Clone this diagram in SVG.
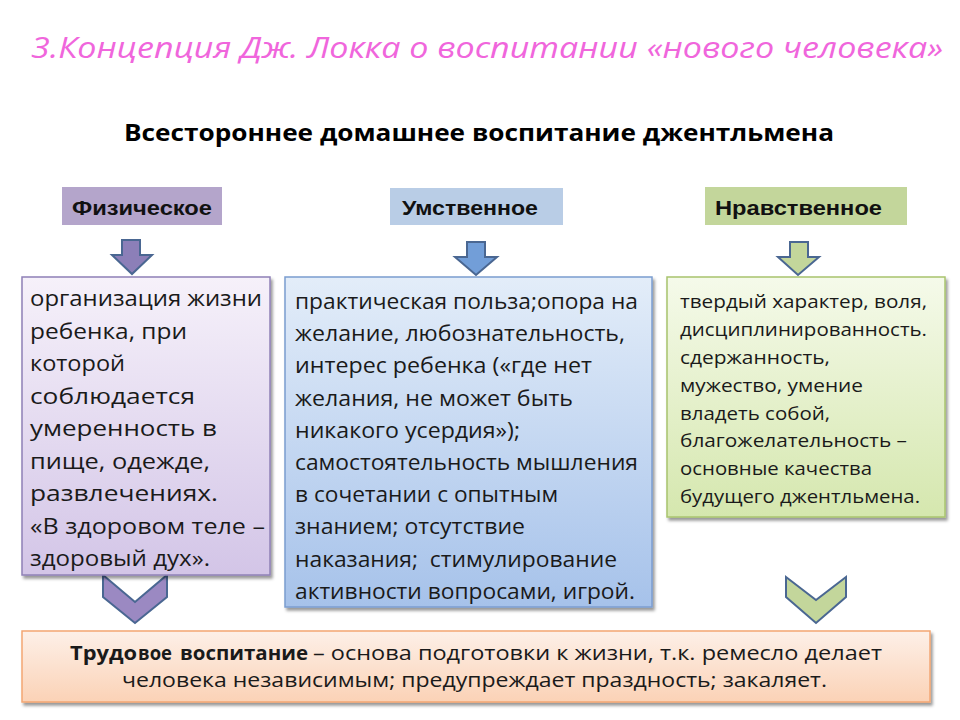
<svg xmlns="http://www.w3.org/2000/svg" width="960" height="720" viewBox="0 0 960 720">
<defs>
<linearGradient id="gPurple" x1="0" y1="0" x2="0" y2="1"><stop offset="0" stop-color="#f6f1fa"/><stop offset="1" stop-color="#d3c5e7"/></linearGradient>
<linearGradient id="gBlue" x1="0" y1="0" x2="0" y2="1"><stop offset="0" stop-color="#e3edf9"/><stop offset="1" stop-color="#a6c2ea"/></linearGradient>
<linearGradient id="gGreen" x1="0" y1="0" x2="0" y2="1"><stop offset="0" stop-color="#f5faea"/><stop offset="1" stop-color="#d5e7ae"/></linearGradient>
<linearGradient id="gPeach" x1="0" y1="0" x2="0" y2="1"><stop offset="0" stop-color="#fdf0e8"/><stop offset="1" stop-color="#fbd2b6"/></linearGradient>
<filter id="sh" x="-5%" y="-5%" width="110%" height="115%"><feDropShadow dx="2" dy="3" stdDeviation="1.5" flood-color="#000" flood-opacity="0.4"/></filter>
</defs>
<style>
.title{font-family:"Open Sans","Noto Sans",sans-serif;font-style:italic;font-size:29px;fill:#f066dc}
.sub{font-family:"Open Sans","Noto Sans",sans-serif;font-weight:bold;font-size:23px;fill:#000}
.hdr{font-family:"Liberation Sans",Arial,sans-serif;font-weight:bold;font-size:20px;fill:#111}
.body{font-family:"Open Sans","Noto Sans",sans-serif;font-size:22px;fill:#1a1a1a}
.small{font-family:"Open Sans","Noto Sans",sans-serif;font-size:18.5px;fill:#1a1a1a}
.bot{font-family:"Open Sans","Noto Sans",sans-serif;font-size:20px;fill:#1a1a1a}
.arr{stroke:#4a6792;stroke-width:2;stroke-linejoin:miter}
</style>
<rect width="960" height="720" fill="#ffffff"/>

<g id="title">
<text class="title" x="31" y="58" textLength="912" lengthAdjust="spacingAndGlyphs">3.Концепция Дж. Локка о воспитании «нового человека»</text>
</g>
<g id="subtitle">
<text class="sub" x="124" y="141" textLength="710" lengthAdjust="spacingAndGlyphs">Всестороннее домашнее воспитание джентльмена</text>
</g>

<g id="connectors">
<polygon class="arr" fill="#8c7fb8" points="122,240 140,240 140,255 152,255 132,274 112,255 122,255"/>
<polygon class="arr" fill="#729ed8" points="467,242 485,242 485,257 497,257 476,275 455,257 467,257"/>
<polygon class="arr" fill="#c3d69b" points="790,242 808,242 808,257 819,257 798,275 778,257 790,257"/>
<polygon class="arr" fill="#9b89c2" points="103,575 135,602 167,575 167,597 135,623 103,597"/>
<polygon class="arr" fill="#c3d69b" points="786,577 816,600 846,577 846,597 816,623 786,597"/>
</g>

<g id="hdr-phys">
<rect x="62" y="187" width="160" height="38" fill="#b4a5cb"/>
<text class="hdr" x="72" y="215" textLength="140" lengthAdjust="spacingAndGlyphs">Физическое</text>
</g>
<g id="hdr-mind">
<rect x="390" y="188" width="173" height="37" fill="#b9cde6"/>
<text class="hdr" x="402" y="215" textLength="136" lengthAdjust="spacingAndGlyphs">Умственное</text>
</g>
<g id="hdr-moral">
<rect x="705" y="187" width="202" height="38" fill="#c3d69b"/>
<text class="hdr" x="715" y="215" textLength="167" lengthAdjust="spacingAndGlyphs">Нравственное</text>
</g>

<g id="box-phys">
<rect x="22" y="277" width="248" height="298" fill="url(#gPurple)" stroke="#8f80b6" stroke-width="1.5" filter="url(#sh)"/>
<text class="body" x="30" y="306" textLength="232" lengthAdjust="spacingAndGlyphs">организация жизни</text>
<text class="body" x="30" y="338.5" textLength="157" lengthAdjust="spacingAndGlyphs">ребенка, при</text>
<text class="body" x="30" y="371" textLength="95" lengthAdjust="spacingAndGlyphs">которой</text>
<text class="body" x="30" y="403.5" textLength="165" lengthAdjust="spacingAndGlyphs">соблюдается</text>
<text class="body" x="30" y="436" textLength="187" lengthAdjust="spacingAndGlyphs">умеренность в</text>
<text class="body" x="30" y="468.5" textLength="180" lengthAdjust="spacingAndGlyphs">пище, одежде,</text>
<text class="body" x="30" y="501" textLength="188" lengthAdjust="spacingAndGlyphs">развлечениях.</text>
<text class="body" x="30" y="533.5" textLength="235" lengthAdjust="spacingAndGlyphs">«В здоровом теле –</text>
<text class="body" x="30" y="566" textLength="180" lengthAdjust="spacingAndGlyphs">здоровый дух».</text>
</g>

<g id="box-mind">
<rect x="285" y="277" width="367" height="330" fill="url(#gBlue)" stroke="#7b9dd0" stroke-width="1.5" filter="url(#sh)"/>
<text class="body" x="295" y="309" textLength="343" lengthAdjust="spacingAndGlyphs">практическая польза;опора на</text>
<text class="body" x="295" y="341.2" textLength="330" lengthAdjust="spacingAndGlyphs">желание, любознательность,</text>
<text class="body" x="295" y="373.4" textLength="297" lengthAdjust="spacingAndGlyphs">интерес ребенка («где нет</text>
<text class="body" x="295" y="405.6" textLength="278" lengthAdjust="spacingAndGlyphs">желания, не может быть</text>
<text class="body" x="295" y="437.8" textLength="225" lengthAdjust="spacingAndGlyphs">никакого усердия»);</text>
<text class="body" x="295" y="470" textLength="343" lengthAdjust="spacingAndGlyphs">самостоятельность мышления</text>
<text class="body" x="295" y="502.2" textLength="263" lengthAdjust="spacingAndGlyphs">в сочетании с опытным</text>
<text class="body" x="295" y="534.4" textLength="230" lengthAdjust="spacingAndGlyphs">знанием; отсутствие</text>
<text class="body" x="295" y="566.6" textLength="322" lengthAdjust="spacingAndGlyphs" xml:space="preserve">наказания;  стимулирование</text>
<text class="body" x="295" y="598.8" textLength="340" lengthAdjust="spacingAndGlyphs">активности вопросами, игрой.</text>
</g>

<g id="box-moral">
<rect x="667" y="277" width="278" height="240" fill="url(#gGreen)" stroke="#a8c46e" stroke-width="1.5" filter="url(#sh)"/>
<text class="small" x="680" y="308" textLength="247" lengthAdjust="spacingAndGlyphs">твердый характер, воля,</text>
<text class="small" x="680" y="336" textLength="247" lengthAdjust="spacingAndGlyphs">дисциплинированность.</text>
<text class="small" x="680" y="364" textLength="150" lengthAdjust="spacingAndGlyphs">сдержанность,</text>
<text class="small" x="680" y="392" textLength="183" lengthAdjust="spacingAndGlyphs">мужество, умение</text>
<text class="small" x="680" y="420" textLength="150" lengthAdjust="spacingAndGlyphs">владеть собой,</text>
<text class="small" x="680" y="447" textLength="227" lengthAdjust="spacingAndGlyphs">благожелательность –</text>
<text class="small" x="680" y="475" textLength="192" lengthAdjust="spacingAndGlyphs">основные качества</text>
<text class="small" x="680" y="503" textLength="240" lengthAdjust="spacingAndGlyphs">будущего джентльмена.</text>
</g>

<g id="box-labor">
<rect x="22" y="631" width="908" height="71" fill="url(#gPeach)" stroke="#f3a673" stroke-width="1.5" filter="url(#sh)"/>
<text class="bot" x="70" y="660" font-weight="bold" textLength="67" lengthAdjust="spacingAndGlyphs">Трудо</text>
<text class="bot" x="138" y="660" font-weight="bold" font-size="16" textLength="34" lengthAdjust="spacingAndGlyphs">вое</text>
<text class="bot" x="180" y="660" font-weight="bold" textLength="128" lengthAdjust="spacingAndGlyphs">воспитание</text>
<text class="bot" x="313" y="660" textLength="569" lengthAdjust="spacingAndGlyphs">– основа подготовки к жизни, т.к. ремесло делает</text>
<text class="bot" x="122" y="687" textLength="705" lengthAdjust="spacingAndGlyphs">человека независимым; предупреждает праздность; закаляет.</text>
</g>
</svg>
